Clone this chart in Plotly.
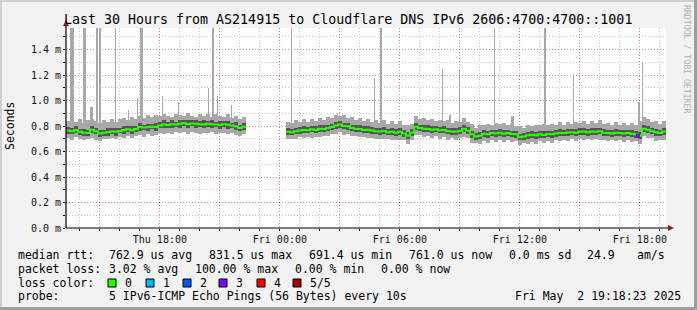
import plotly.graph_objects as go
import pandas as pd

TITLE = "Last 30 Hours from AS214915 to Cloudflare DNS IPv6 2606:4700:4700::1001"
START = "2025-05-01 13:18:23"
END = "2025-05-02 19:18:23"
SEG1_START = "2025-05-01 13:18:23"
SEG2_START = "2025-05-02 00:18:23"
STEP_MIN = 12

# ---- segment 1 (before data gap), values in microseconds ----
med1 = [765,760,770,755,748,745,772,760,742,748,752,758,755,762,770,775,768,778,792,788,
        790,795,792,805,812,808,815,812,818,822,815,820,818,815,812,818,815,812,808,815,
        810,805,798,785,795]
hi1 = [842,862,830,855,828,846,858,840,822,848,836,858,832,852,866,848,870,852,880,862,
       884,868,890,878,892,882,870,896,888,876,900,880,874,898,880,894,872,892,878,872,
       894,866,876,858,872]
lo1 = [705,692,715,696,688,700,705,694,685,702,696,708,698,712,705,720,706,724,730,718,
       735,726,730,742,738,746,740,752,744,755,740,752,746,740,748,744,750,736,742,748,
       738,742,728,720,735]
dhi1 = [792,782,800,780,778,768,804,786,770,772,784,782,786,788,802,798,798,804,824,812,
        820,818,824,830,844,832,846,836,850,846,846,844,848,838,844,842,846,836,838,840,
        842,828,830,808,826]
dlo1 = [738,737,742,732,720,724,745,738,715,726,724,736,726,742,740,754,738,756,760,766,
        762,774,762,784,782,786,786,790,788,800,786,798,788,794,782,796,786,790,778,794,
        780,784,768,764,766]

# ---- segment 2 (after data gap) ----
med2 = [755,752,760,765,770,768,775,770,780,778,
        785,792,805,812,800,798,785,780,778,770,
        772,765,760,758,762,752,755,748,755,742,
        725,748,795,785,780,778,772,775,768,770,
        760,758,755,762,780,765,735,718,725,740,
        735,745,742,748,740,745,738,735,712,718,
        728,732,728,735,730,738,735,742,748,745,
        750,752,748,755,758,752,758,755,760,748,
        745,742,748,745,742,745,740,735,725,780,
        772,760,752,745,758]
hi2 = [835,822,845,832,855,830,858,838,865,845,
       870,860,888,882,885,865,870,848,860,838,
       858,832,845,825,848,820,840,815,838,810,
       808,818,878,852,862,845,856,842,850,838,
       845,825,838,830,862,832,820,788,808,808,
       818,812,826,815,822,812,820,802,798,788,
       812,800,812,805,815,806,818,810,830,812,
       834,820,832,822,840,820,842,822,844,815,
       828,810,830,812,826,812,822,806,838,868,
       858,832,840,818,842]
lo2 = [695,702,700,712,706,716,710,718,714,724,
       720,736,738,755,732,740,720,726,712,718,
       706,710,695,702,696,698,690,694,688,688,
       660,692,730,730,714,722,706,720,702,714,
       694,704,690,708,712,710,670,665,660,686,
       670,690,676,694,674,690,672,680,650,665,
       662,678,662,680,665,684,670,688,682,690,
       684,698,682,700,692,698,692,700,694,694,
       680,688,682,690,676,690,674,680,662,725,
       706,706,686,690,692]
dhi2 = [782,778,788,792,798,795,802,798,808,805,
        812,820,832,840,828,825,812,808,805,798,
        800,792,788,786,790,780,782,776,782,770,
        752,776,822,812,808,805,800,802,796,798,
        788,786,782,790,808,792,762,746,752,768,
        762,772,770,776,768,772,765,762,740,746,
        755,760,755,762,758,765,762,770,775,772,
        778,780,775,782,785,780,786,782,788,776,
        772,770,776,772,770,772,768,762,755,810,
        800,788,780,772,786]
dlo2 = [730,728,735,740,745,742,750,745,755,752,
        760,766,780,786,775,772,760,755,752,745,
        748,740,735,732,738,728,730,722,730,718,
        700,722,770,760,755,752,748,750,742,745,
        735,732,730,738,755,740,710,692,700,715,
        710,720,716,722,715,720,712,710,688,692,
        702,706,702,710,705,712,710,716,722,720,
        725,728,722,730,732,726,732,730,735,722,
        720,716,722,720,716,720,714,710,700,755,
        746,735,726,720,732]

# ---- spikes (max ping), minutes after START, value in us, width in minutes ----
spike_min = [12,51,72,90,99,147,186,213,222,288,336,426,438,453,495,675,813,924,942,
             1128,1149,1179,1284,1335,1434,1521,1716,1728]
spike_us = [1600,1600,950,1600,1600,1600,925,1020,1600,1035,990,1100,1600,1040,965,1600,
            900,1180,1600,1250,886,1250,1600,880,1600,1210,990,1300]
spike_wmin = [12,9,9,6,6,3,3,3,9,3,3,3,6,3,3,3,3,3,6,3,6,3,3,9,6,3,6,3]

# ---- packet loss events ----
loss_times = ["2025-05-02 17:54:23"]
loss_us = [725]
loss_level = [3]

# ---- axis ticks ----
x_tickvals = ["2025-05-01 15:00","2025-05-01 18:00","2025-05-01 21:00","2025-05-02 00:00",
              "2025-05-02 03:00","2025-05-02 06:00","2025-05-02 09:00","2025-05-02 12:00",
              "2025-05-02 15:00","2025-05-02 18:00"]
x_ticktext = ["","Thu 18:00","","Fri 00:00","","Fri 06:00","","Fri 12:00","","Fri 18:00"]
y_tickvals = [0.0,0.2,0.4,0.6,0.8,1.0,1.2,1.4]
y_ticktext = ["0.0 m","0.2 m","0.4 m","0.6 m","0.8 m","1.0 m","1.2 m","1.4 m"]
Y_MAX = 1.57

legend_labels = ["0","1","2","3","4","5/5"]
legend_colors = ["#26ff00","#00b8ff","#0059ff","#7e00ff","#ff0000","#a10000"]

stat_line1 = [("median rtt:",16),("762.9 us avg",107),("831.5 us max",207),("691.4 us min",307),
              ("761.0 us now",407),("0.0 ms sd",507),("24.9",585),("am/s",635)]
stat_line2 = [("packet loss:",16),("3.02 % avg",107),("100.00 % max",193),("0.00 % min",293),
              ("0.00 % now",379)]
probe_text = "5 IPv6-ICMP Echo Pings (56 Bytes) every 10s"
stamp_text = "Fri May  2 19:18:23 2025"

MONO = "DejaVu Sans Mono"
LIGHT = "#a8a8a8"
DARK = "#555555"
GREEN = "#26ff00"

# geometry helpers (pixels -> paper coords)
W, H = 697, 310
L, R, T, B = 66, 666, 28, 228
def fx(px): return (px - L) / (R - L)
def fy(py): return (B - py) / (B - T)

fig = go.Figure()
step_ms = STEP_MIN * 60 * 1000

# spikes
sp_x = [pd.Timestamp(START) + pd.Timedelta(minutes=m) for m in spike_min]
fig.add_trace(go.Bar(x=sp_x, y=[v / 1000 - 0.8 for v in spike_us], base=0.8,
                     width=[w * 60 * 1000 for w in spike_wmin], offset=0,
                     marker=dict(color=LIGHT, line_width=0)))

for seg_start, med, hi, lo, dhi, dlo in [(SEG1_START, med1, hi1, lo1, dhi1, dlo1),
                                         (SEG2_START, med2, hi2, lo2, dhi2, dlo2)]:
    t = pd.date_range(seg_start, periods=len(med), freq=f"{STEP_MIN}min")
    fig.add_trace(go.Bar(x=t, y=[(h - l) / 1000 for h, l in zip(hi, lo)],
                         base=[l / 1000 for l in lo], width=step_ms * 1.05, offset=0,
                         marker=dict(color=LIGHT, line_width=0)))
    fig.add_trace(go.Bar(x=t, y=[(h - l) / 1000 for h, l in zip(dhi, dlo)],
                         base=[l / 1000 for l in dlo], width=step_ms * 1.05, offset=0,
                         marker=dict(color=DARK, line_width=0)))
    fig.add_trace(go.Scatter(x=list(t) + [t[-1] + pd.Timedelta(minutes=STEP_MIN)],
                             y=[m / 1000 for m in med] + [med[-1] / 1000],
                             mode="lines", line=dict(color=GREEN, width=2, shape="hv")))

fig.add_trace(go.Scatter(x=loss_times, y=[v / 1000 for v in loss_us], mode="markers",
                         marker=dict(symbol="square", size=4,
                                     color=[legend_colors[k] for k in loss_level])))

grid_major = "rgba(255,0,0,0.33)"
grid_minor = "rgba(128,128,128,0.45)"

fig.update_xaxes(range=[START, END], type="date", tickmode="array",
                 tickvals=x_tickvals, ticktext=x_ticktext,
                 showgrid=True, gridcolor=grid_major, griddash="1px,2px", gridwidth=1,
                 ticks="outside", ticklen=2, tickcolor="#000",
                 tickfont=dict(family=MONO, size=10, color="#111"),
                 minor=dict(dtick=3600000, tick0="2025-05-01 00:00", showgrid=True,
                            gridcolor=grid_minor, griddash="1px,2px", ticks="outside",
                            ticklen=2, tickcolor="#000"),
                 showline=False, zeroline=False, fixedrange=True)
fig.update_yaxes(range=[0, Y_MAX], tickmode="array", tickvals=y_tickvals, ticktext=y_ticktext,
                 showgrid=True, gridcolor=grid_major, griddash="1px,2px", gridwidth=1,
                 ticks="outside", ticklen=2, tickcolor="#000",
                 tickfont=dict(family=MONO, size=10, color="#111"),
                 minor=dict(dtick=0.1, showgrid=True, gridcolor=grid_minor,
                            griddash="1px,2px", ticks="outside", ticklen=2, tickcolor="#000"),
                 showline=False, zeroline=False, fixedrange=True)

shapes = []
# frame
shapes.append(dict(type="rect", xref="paper", yref="paper", x0=fx(0), x1=fx(W), y0=fy(0), y1=fy(2),
                   fillcolor="#cfcfcf", line_width=0, layer="above"))
shapes.append(dict(type="rect", xref="paper", yref="paper", x0=fx(0), x1=fx(2), y0=fy(0), y1=fy(H),
                   fillcolor="#cfcfcf", line_width=0, layer="above"))
shapes.append(dict(type="rect", xref="paper", yref="paper", x0=fx(0), x1=fx(W), y0=fy(307), y1=fy(H),
                   fillcolor="#9e9e9e", line_width=0, layer="above"))
shapes.append(dict(type="rect", xref="paper", yref="paper", x0=fx(694), x1=fx(W), y0=fy(0), y1=fy(H),
                   fillcolor="#9e9e9e", line_width=0, layer="above"))
# axes
shapes.append(dict(type="line", xref="paper", yref="paper", x0=fx(L), x1=fx(669), y0=fy(B), y1=fy(B),
                   line=dict(color="#000", width=1.2), layer="above"))
shapes.append(dict(type="line", xref="paper", yref="paper", x0=fx(L), x1=fx(L), y0=fy(B), y1=fy(25),
                   line=dict(color="#000", width=1.2), layer="above"))
shapes.append(dict(type="path", xref="paper", yref="paper",
                   path=f"M {fx(L-3)} {fy(26)} L {fx(L+3)} {fy(26)} L {fx(L)} {fy(20)} Z",
                   fillcolor="#9b1c1c", line_width=0, layer="above"))
shapes.append(dict(type="path", xref="paper", yref="paper",
                   path=f"M {fx(668)} {fy(B-3)} L {fx(668)} {fy(B+3)} L {fx(674)} {fy(B)} Z",
                   fillcolor="#9b1c1c", line_width=0, layer="above"))

annotations = []
def txt(s, px, py, size=11.5, color="#000", xanchor="left", angle=0):
    annotations.append(dict(text=s, x=fx(px), y=fy(py), xref="paper", yref="paper",
                            xanchor=xanchor, yanchor="middle", showarrow=False,
                            textangle=angle, font=dict(family=MONO, size=size, color=color)))

txt(TITLE, 347.5, 19, size=13.3, xanchor="center")
txt("Seconds", 10, 126, size=11.5, xanchor="center", angle=-90)
txt("RRDTOOL / TOBI OETIKER", 687, 59, size=8.2, color="#b0b0b0", xanchor="center", angle=90)
for s, px in stat_line1:
    txt(s, px, 255)
for s, px in stat_line2:
    txt(s, px, 269)
txt("loss color:", 16, 283)
sq_x = [108, 146, 183, 219, 257, 293]
for lab, col, sx in zip(legend_labels, legend_colors, sq_x):
    shapes.append(dict(type="rect", xref="paper", yref="paper", x0=fx(sx), x1=fx(sx + 8),
                       y0=fy(287), y1=fy(279), fillcolor=col,
                       line=dict(color="#000", width=1), layer="above"))
    txt(lab, sx + 15, 283)
txt("probe:", 16, 296)
txt(probe_text, 107, 296)
txt(stamp_text, 513, 296)

fig.update_layout(width=W, height=H, margin=dict(l=L, r=W - R, t=T, b=H - B),
                  paper_bgcolor="#f2f2f2", plot_bgcolor="#ffffff", showlegend=False,
                  barmode="overlay", bargap=0, shapes=shapes, annotations=annotations)

fig.write_html("out.html")
